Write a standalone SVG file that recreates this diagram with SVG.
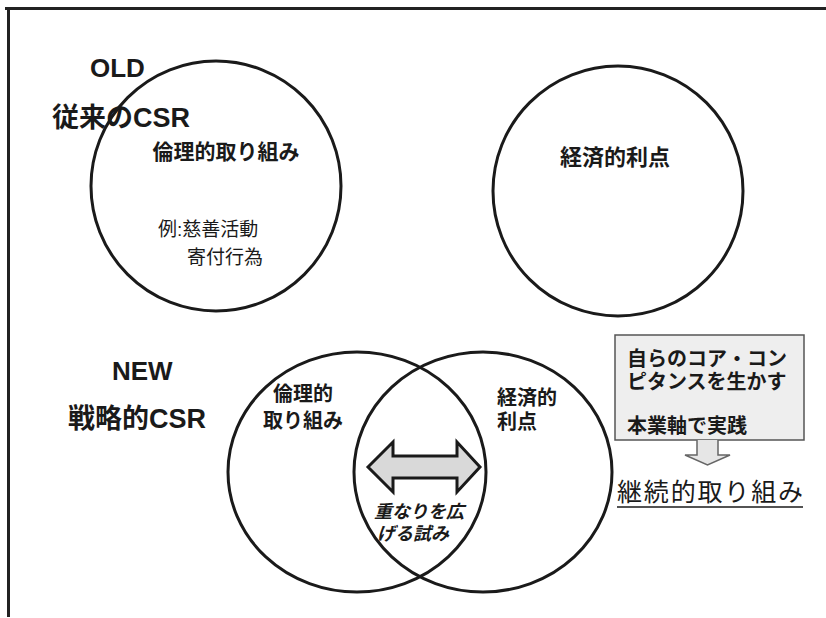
<svg xmlns="http://www.w3.org/2000/svg" width="826" height="618" viewBox="0 0 826 618">
<style>
.c{fill:none;stroke:#1a1a1a;stroke-width:3}
.t{font-family:"Liberation Sans","Noto Sans CJK JP",sans-serif;fill:#1a1a1a}
.b{font-weight:bold}
.frame{fill:none;stroke:#222;stroke-width:3}
</style>
<rect width="826" height="618" fill="#fff"/>
<path class="frame" d="M5 8.5H826M8.5 8V617"/>

<g id="old-title">
<text class="t b" x="90" y="77" font-size="26">OLD</text>
<text class="t b" x="52" y="127" font-size="27">従来のCSR</text>
</g>

<g id="old-ethics">
<circle class="c" cx="216" cy="186" r="125"/>
<text class="t b" x="226" y="159" font-size="21" text-anchor="middle">倫理的取り組み</text>
<text class="t" x="158" y="236" font-size="19">例:慈善活動</text>
<text class="t" x="187" y="264" font-size="19">寄付行為</text>
</g>

<g id="old-economic">
<circle class="c" cx="618" cy="191" r="125"/>
<text class="t b" x="615" y="165" font-size="22" text-anchor="middle">経済的利点</text>
</g>

<g id="new-title">
<text class="t b" x="112" y="380" font-size="26">NEW</text>
<text class="t b" x="68" y="428" font-size="27">戦略的CSR</text>
</g>

<g id="new-ethics">
<ellipse class="c" cx="357" cy="472" rx="129" ry="120"/>
<text class="t b" x="303" y="401" font-size="20" text-anchor="middle">倫理的</text>
<text class="t b" x="303" y="428" font-size="20" text-anchor="middle">取り組み</text>
</g>

<g id="new-economic">
<ellipse class="c" cx="483" cy="472" rx="129" ry="120"/>
<text class="t b" x="497" y="405" font-size="20">経済的</text>
<text class="t b" x="497" y="429" font-size="20">利点</text>
</g>

<g id="overlap">
<path d="M368 467L393 442V456H457V442L480 467L457 492V478H393V492Z" fill="#d9d9d9" stroke="#1a1a1a" stroke-width="3" stroke-linejoin="miter"/>
<text class="t b" x="419" y="518" font-size="18" font-style="italic" text-anchor="middle">重なりを広</text>
<text class="t b" x="413" y="540" font-size="18" font-style="italic" text-anchor="middle">げる試み</text>
</g>

<g id="core-box">
<rect x="615" y="335" width="189" height="105" fill="#eeeeee" stroke="#555" stroke-width="1.5"/>
<text class="t b" x="627" y="366" font-size="20">自らのコア・コン</text>
<text class="t b" x="627" y="389" font-size="20">ピタンスを生かす</text>
<text class="t b" x="627" y="433" font-size="20">本業軸で実践</text>
</g>

<g id="connectors">
<path d="M697 440V455H685L707.5 465L730 455H718V440" fill="#e6e6e6" stroke="#666" stroke-width="1.5"/>
</g>

<g id="continuous">
<text class="t" x="617" y="501" font-size="25" textLength="186">継続的取り組み</text>
<line x1="617" y1="507" x2="803" y2="507" stroke="#1a1a1a" stroke-width="1.5"/>
</g>
</svg>
